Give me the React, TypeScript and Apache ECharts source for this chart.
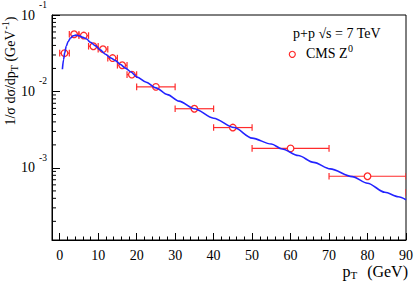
import React, { useEffect, useRef } from 'react';
import * as echarts from 'echarts';

// CMS Z0 data points (pT bin centre, value, bin edges)
const pointX = [1.25, 3.75, 6.25, 8.75, 11.25, 13.75, 16.25, 18.75, 25, 35, 45, 60, 80, 100];
const pointY = [0.0317, 0.056, 0.0538, 0.039, 0.0357, 0.0273, 0.022, 0.0166, 0.01148, 0.00594, 0.00337, 0.0018, 0.000778, 0.000478];
const pointXLow = [0, 2.5, 5, 7.5, 10, 12.5, 15, 17.5, 20, 30, 40, 50, 70, 90];
const pointXHigh = [2.5, 5, 7.5, 10, 12.5, 15, 17.5, 20, 30, 40, 50, 70, 90, 110];

// model curve
const curveX = [0.7, 1.0, 1.3, 1.7, 2.2, 2.8, 3.5, 4.2, 5.0, 6.0, 7.0, 8.0, 9.3, 10.5, 11.9, 13.2, 14.5, 15.8, 17.1, 18.5, 20.1, 22.5, 25, 28, 31, 35, 40, 45.3, 50, 55, 57.8, 62, 66, 70.3, 76, 80, 84.5, 88, 90];
const curveY = [0.0195, 0.026, 0.032, 0.039, 0.045, 0.05, 0.0535, 0.0545, 0.0535, 0.051, 0.0485, 0.044, 0.0395, 0.035, 0.0307, 0.0275, 0.0253, 0.0225, 0.0202, 0.018, 0.0154, 0.0132, 0.01115, 0.0091, 0.00748, 0.00594, 0.00447, 0.00337, 0.00245, 0.00205, 0.00177, 0.00145, 0.00118, 0.00097, 0.00077, 0.00063, 0.00048, 0.00042, 0.000384];

const xTickLabels = ['0', '10', '20', '30', '40', '50', '60', '70', '80', '90'];
const xMin = -2;
const xMax = 90;
const yMin = 1.14e-4;
const yMax = 0.1;

const FONT = 'Liberation Serif';
const RED = '#ff2b2b';
const BLUE = '#2323ff';

export default function App() {
  const ref = useRef<HTMLDivElement>(null);
  useEffect(() => {
    const chart = echarts.init(ref.current as HTMLDivElement, null, { renderer: 'svg' });

    const minorY: number[] = [];
    for (let k = -4; k <= -2; k++) {
      for (let m = 2; m <= 9; m++) {
        const v = +(m * Math.pow(10, k)).toPrecision(3);
        if (v > yMin && v < yMax) minorY.push(v);
      }
    }

    const points = pointX.map((x, i) => [x, pointY[i], pointXLow[i], pointXHigh[i]]);

    const option: any = {
      animation: false,
      grid: {
        left: 52, right: 7, top: 13, bottom: 43,
        show: true, borderColor: '#000', borderWidth: 1, backgroundColor: 'transparent',
      },
      xAxis: {
        type: 'value', min: xMin, max: xMax, splitNumber: 9,
        axisLine: { show: true, onZero: false, lineStyle: { color: '#000', width: 1 } },
        axisTick: { show: true, inside: true, length: 7, lineStyle: { color: '#000', width: 1 } },
        minorTick: { show: true, splitNumber: 5, length: 3.5, lineStyle: { color: '#000', width: 1 } },
        splitLine: { show: false },
        minorSplitLine: { show: false },
        axisLabel: {
          margin: 8, color: '#000', fontFamily: FONT, fontSize: 14,
          formatter: (v: number) => {
            const s = String(Math.round(v));
            return Math.abs(v - Math.round(v)) < 1e-6 && xTickLabels.indexOf(s) >= 0 ? s : '';
          },
        },
      },
      yAxis: {
        type: 'log', logBase: 10, min: yMin, max: yMax,
        axisLine: { show: true, onZero: false, lineStyle: { color: '#000', width: 1 } },
        axisTick: { show: true, inside: true, length: 8, lineStyle: { color: '#000', width: 1 } },
        splitLine: { show: false },
        axisLabel: {
          margin: 5,
          formatter: (v: number) => {
            const e = Math.log10(v);
            const r = Math.round(e);
            if (Math.abs(e - r) > 1e-6) return '';
            return `{b|10}{s|${r}}`;
          },
          rich: {
            b: { fontFamily: FONT, fontSize: 14, lineHeight: 14, padding: [7.75, 0, 7.75, 0], color: '#000' },
            s: { fontFamily: FONT, fontSize: 9.5, lineHeight: 9.5, padding: [0, 0, 20, 4], color: '#000' },
          },
        },
      },
      graphic: [
        {
          type: 'text', x: 10, y: 71, rotation: Math.PI / 2,
          style: {
            text: '{m|1/σ dσ/dp}{sub|T}{m| (GeV}{sup|-1}{m|)}',
            align: 'center', verticalAlign: 'middle', fill: '#000',
            rich: {
              m: { fontFamily: FONT, fontSize: 14, lineHeight: 14, padding: [3, 0, 3, 0], fill: '#000' },
              sub: { fontFamily: FONT, fontSize: 10, lineHeight: 10, padding: [9, 0, 1, 0], fill: '#000' },
              sup: { fontFamily: FONT, fontSize: 10, lineHeight: 10, padding: [0, 0, 10, 1], fill: '#000' },
            },
          },
        },
        {
          type: 'text', x: 408, y: 271,
          style: {
            text: '{m|p}{sub|T}{m| (GeV)}',
            align: 'right', verticalAlign: 'middle', fill: '#000',
            rich: {
              m: { fontFamily: FONT, fontSize: 16, lineHeight: 16, padding: [2, 0, 2, 0], fill: '#000' },
              sub: { fontFamily: FONT, fontSize: 11, lineHeight: 11, padding: [8, 6, 1, 0], fill: '#000' },
            },
          },
        },
        {
          type: 'text', x: 293, y: 33.5,
          style: { text: 'p+p √s = 7 TeV', fontFamily: FONT, fontSize: 14, fill: '#000', align: 'left', verticalAlign: 'middle' },
        },
        {
          type: 'text', x: 306, y: 53,
          style: {
            text: '{m|CMS Z}{sup|0}',
            align: 'left', verticalAlign: 'middle', fill: '#000',
            rich: {
              m: { fontFamily: FONT, fontSize: 14, lineHeight: 14, padding: [3, 0, 3, 0], fill: '#000' },
              sup: { fontFamily: FONT, fontSize: 10, lineHeight: 10, padding: [0, 0, 10, 0.5], fill: '#000' },
            },
          },
        },
        {
          type: 'circle', shape: { cx: 292.3, cy: 54.3, r: 3 },
          style: { fill: 'none', stroke: RED, lineWidth: 1.2 },
        },
      ],
      series: [
        {
          type: 'custom',
          coordinateSystem: 'cartesian2d',
          data: minorY.map((v) => [xMin, v]),
          encode: { x: 0, y: 1 },
          clip: false,
          silent: true,
          renderItem: (_params: any, api: any) => {
            const p = api.coord([xMin, api.value(1)]);
            return {
              type: 'line',
              shape: { x1: p[0], y1: p[1], x2: p[0] + 4, y2: p[1] },
              style: { stroke: '#000', lineWidth: 1 },
            };
          },
        },
        {
          type: 'custom',
          coordinateSystem: 'cartesian2d',
          data: points,
          encode: { x: 0, y: 1 },
          clip: true,
          renderItem: (_params: any, api: any) => {
            const y = api.value(1);
            const c = api.coord([api.value(0), y]);
            const lo = api.coord([api.value(2), y]);
            const hi = api.coord([api.value(3), y]);
            const r = 3.3;
            const cap = 3.3;
            const st = { stroke: RED, lineWidth: 1.2 };
            const children: any[] = [];
            if (c[0] - r > lo[0]) children.push({ type: 'line', shape: { x1: lo[0], y1: c[1], x2: c[0] - r, y2: c[1] }, style: st });
            if (hi[0] > c[0] + r) children.push({ type: 'line', shape: { x1: c[0] + r, y1: c[1], x2: hi[0], y2: c[1] }, style: st });
            children.push({ type: 'line', shape: { x1: lo[0], y1: c[1] - cap, x2: lo[0], y2: c[1] + cap }, style: st });
            children.push({ type: 'line', shape: { x1: hi[0], y1: c[1] - cap, x2: hi[0], y2: c[1] + cap }, style: st });
            children.push({ type: 'circle', shape: { cx: c[0], cy: c[1], r }, style: { fill: 'none', stroke: RED, lineWidth: 1.3 } });
            return { type: 'group', children };
          },
        },
        {
          type: 'line',
          data: curveX.map((x, i) => [x, curveY[i]]),
          showSymbol: false,
          symbol: 'none',
          smooth: 0.3,
          smoothMonotone: 'x',
          lineStyle: { color: BLUE, width: 1.6 },
          z: 5,
          silent: true,
        },
      ],
    };
    chart.setOption(option);
    return () => chart.dispose();
  }, []);
  return <div ref={ref} style={{ position: 'absolute', left: 0, top: 0, width: 416, height: 283 }} />;
}
